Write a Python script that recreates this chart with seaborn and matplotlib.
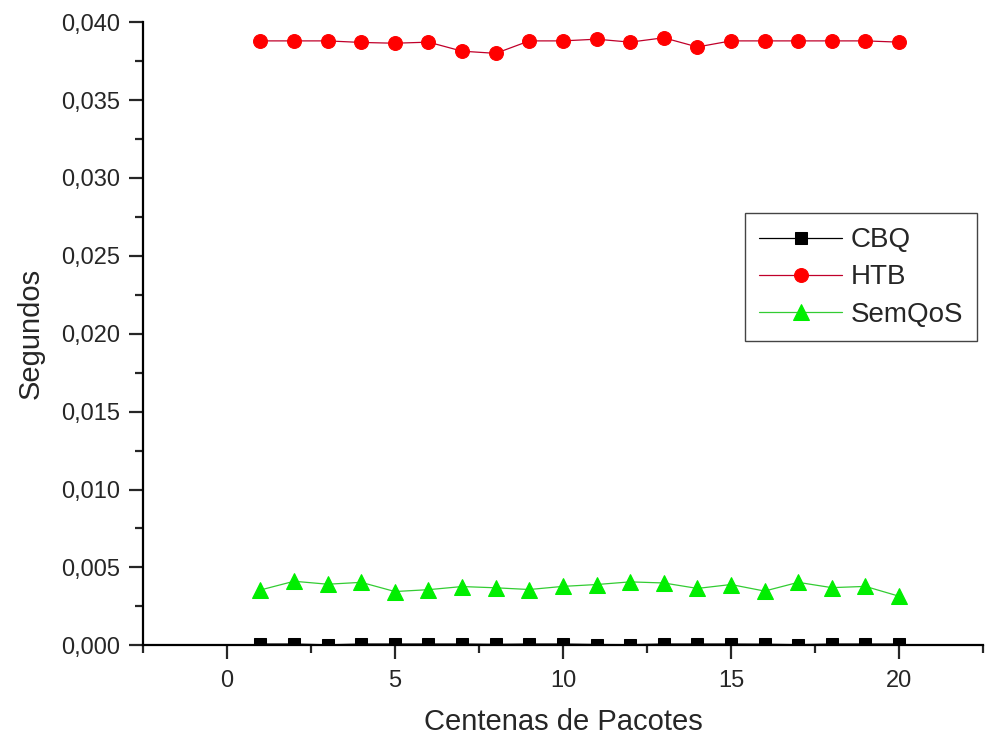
import numpy as np
import pandas as pd
import matplotlib
matplotlib.use("Agg")
import matplotlib.pyplot as plt
import seaborn as sns
from matplotlib.ticker import MultipleLocator, FuncFormatter

pacotes = list(range(1, 21))
cbq = [0.00008, 0.00008, 0.00003, 0.00008, 0.00008, 0.00008, 0.00008, 0.00006, 0.00008, 0.00008,
       0.00005, 0.00004, 0.00008, 0.00008, 0.00008, 0.00007, 0.00004, 0.00008, 0.00008, 0.00008]
htb = [0.0388, 0.0388, 0.0388, 0.0387, 0.03865, 0.03872, 0.03814, 0.0380, 0.0388, 0.0388,
       0.03891, 0.03872, 0.0390, 0.03841, 0.0388, 0.0388, 0.0388, 0.0388, 0.0388, 0.03872]
semqos = [0.00355, 0.00411, 0.00392, 0.00404, 0.00345, 0.00357, 0.00377, 0.00369, 0.00358, 0.00378,
          0.0039, 0.00407, 0.0040, 0.00365, 0.0039, 0.00348, 0.00404, 0.0037, 0.00378, 0.00315]

sns.set_style("white")
plt.rcParams['font.family'] = ['Liberation Sans', 'DejaVu Sans']

fig = plt.figure(figsize=(9.85, 7.4), dpi=100)
ax = fig.add_axes([0.145, 0.128, 0.853, 0.842])

series = [
    ("CBQ", cbq, "black", "black", "s", 8),
    ("HTB", htb, "#c0002a", "#ff0000", "o", 10),
    ("SemQoS", semqos, "#33cc33", "#00ee00", "^", 11),
]
for nome, vals, lc, mc, mk, ms in series:
    df = pd.DataFrame({"x": pacotes, "y": vals})
    sns.lineplot(data=df, x="x", y="y", ax=ax, color=lc, linewidth=0.9,
                 marker=mk, markersize=ms, markerfacecolor=mc,
                 markeredgecolor=mc, label=nome)

ax.set_xlim(-2.5, 22.5)
ax.set_ylim(0, 0.040)
ax.xaxis.set_major_locator(MultipleLocator(5))
ax.xaxis.set_minor_locator(MultipleLocator(2.5))
ax.yaxis.set_major_locator(MultipleLocator(0.005))
ax.yaxis.set_minor_locator(MultipleLocator(0.0025))
ax.yaxis.set_major_formatter(FuncFormatter(lambda v, p: f"{v:.3f}".replace(".", ",")))

for s in ["top", "right"]:
    ax.spines[s].set_visible(False)
for s in ["left", "bottom"]:
    ax.spines[s].set_linewidth(1.6)
    ax.spines[s].set_color("black")
ax.tick_params(which="major", direction="out", length=10, width=1.6, labelsize=17,
               left=True, bottom=True, pad=6)
ax.tick_params(which="minor", direction="out", length=6, width=1.6, left=True, bottom=True)
ax.tick_params(axis="x", pad=8)

ax.set_xlabel("Centenas de Pacotes", fontsize=21, labelpad=11)
ax.set_ylabel("Segundos", fontsize=21, labelpad=12)

leg = ax.legend(loc="upper left", bbox_to_anchor=(0.717, 0.693), fontsize=20,
                frameon=True, fancybox=False, edgecolor="#444444", framealpha=1,
                handlelength=3.0, handletextpad=0.3, borderpad=0.5, labelspacing=0.4,
                borderaxespad=0)
leg.get_frame().set_linewidth(1.0)

fig.savefig("out.png", dpi=100)
